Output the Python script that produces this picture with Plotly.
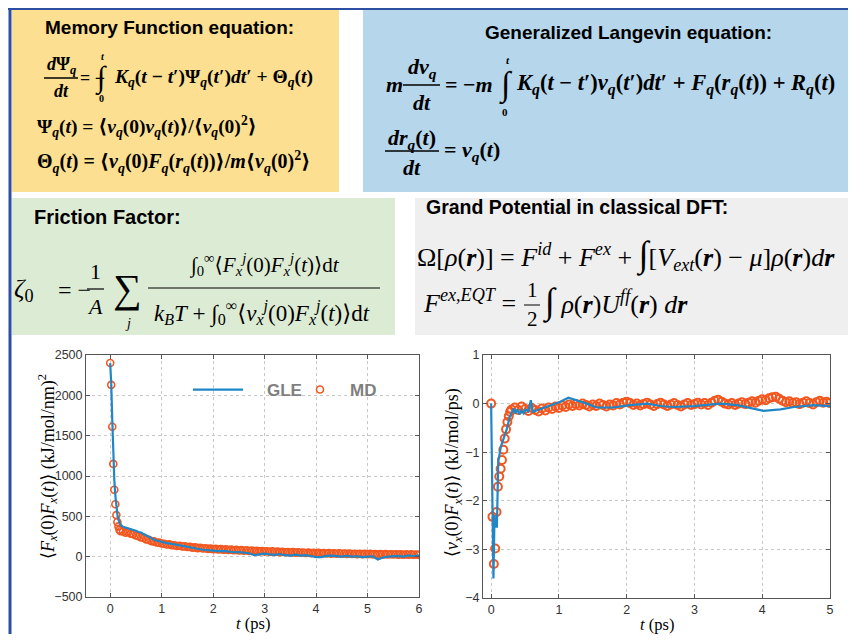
import plotly.graph_objects as go

# page body has an 8px default margin: figure spans reference pixels 8..848 x 8..634
OFF = 8
W, H = 840, 626

# ---------------- data ----------------
# Left panel: <Fx(0)Fx(t)>
MD_T_L = [0, 0.02, 0.04, 0.06, 0.08, 0.10, 0.12, 0.14, 0.16, 0.18, 0.20,
          0.25, 0.30, 0.35, 0.40, 0.45, 0.50, 0.55, 0.60, 0.65, 0.70, 0.75, 0.80, 0.85, 0.90, 0.95,
          1.00, 1.05, 1.10, 1.15, 1.20, 1.25, 1.30, 1.35, 1.40, 1.45, 1.50, 1.55, 1.60, 1.65, 1.70,
          1.75, 1.80, 1.85, 1.90, 1.95, 2.00, 2.05, 2.10, 2.15, 2.20, 2.25, 2.30, 2.35, 2.40, 2.45,
          2.50, 2.55, 2.60, 2.65, 2.70, 2.75, 2.80, 2.85, 2.90, 2.95, 3.00, 3.05, 3.10, 3.15, 3.20,
          3.25, 3.30, 3.35, 3.40, 3.45, 3.50, 3.55, 3.60, 3.65, 3.70, 3.75, 3.80, 3.85, 3.90, 3.95,
          4.00, 4.05, 4.10, 4.15, 4.20, 4.25, 4.30, 4.35, 4.40, 4.45, 4.50, 4.55, 4.60, 4.65, 4.70,
          4.75, 4.80, 4.85, 4.90, 4.95, 5.00, 5.05, 5.10, 5.15, 5.20, 5.25, 5.30, 5.35, 5.40, 5.45,
          5.50, 5.55, 5.60, 5.65, 5.70, 5.75, 5.80, 5.85, 5.90, 5.95, 6.00]
MD_V_L = [2400, 2130, 1610, 1150, 830, 650, 515, 430, 375, 335, 315,
          312, 298, 305, 286, 279, 262, 255, 238, 232, 214, 209, 193, 190, 176, 174,
          163, 160, 151, 152, 141, 142, 133, 135, 126, 127, 119, 121, 112, 115, 106,
          110, 101, 104, 97, 100, 93, 96, 89, 93, 86, 90, 83, 87, 80, 84,
          77, 81, 74, 79, 71, 76, 69, 73, 66, 70, 63, 68, 60, 65, 58,
          63, 56, 60, 54, 58, 52, 56, 50, 54, 48, 52, 46, 50, 44, 49,
          43, 47, 41, 45, 40, 44, 38, 42, 37, 41, 36, 40, 34, 38, 33,
          37, 32, 36, 31, 35, 30, 34, 29, 33, 28, 32, 27, 31, 26, 30,
          26, 30, 25, 29, 24, 28, 24, 28, 23, 27, 22]
GLE_T_L = [0, 0.02, 0.04, 0.06, 0.08, 0.10, 0.12, 0.14, 0.16, 0.18, 0.20, 0.25, 0.30, 0.35,
           0.40, 0.45, 0.50, 0.55, 0.60, 0.65, 0.70, 0.75, 0.80, 0.85, 0.90, 0.95, 1.00, 1.10,
           1.20, 1.30, 1.40, 1.50, 1.60, 1.70, 1.80, 1.90, 2.00, 2.10, 2.20, 2.30, 2.40, 2.50,
           2.60, 2.70, 2.80, 2.90, 3.00, 3.10, 3.20, 3.30, 3.40, 3.50, 3.60, 3.70, 3.80, 3.90,
           4.00, 4.10, 4.20, 4.30, 4.40, 4.50, 4.60, 4.70, 4.80, 4.90, 5.00, 5.10, 5.20, 5.30,
           5.40, 5.50, 5.60, 5.70, 5.80, 5.90, 6.00]
GLE_V_L = [2400, 2150, 1700, 1250, 950, 760, 620, 520, 460, 420, 395, 370, 360, 355,
           345, 330, 322, 305, 300, 280, 262, 245, 225, 212, 200, 190, 182, 168,
           158, 146, 135, 118, 108, 98, 86, 80, 70, 68, 72, 62, 55, 58,
           48, 42, 18, 32, 38, 28, 22, 33, 18, 14, 24, 14, 18, 8,
           -5, -5, 10, 14, 5, 0, 10, 0, 5, -5, 0, 5, -35, -10,
           0, 5, 10, 0, 15, 5, 15]

# Right panel: <vx(0)Fx(t)>
MD_T_R = [0, 0.02, 0.04, 0.06, 0.08, 0.10, 0.12, 0.14, 0.16, 0.18, 0.20, 0.22, 0.24, 0.26, 0.28,
          0.30, 0.35, 0.40, 0.45, 0.50, 0.55, 0.60, 0.65, 0.70, 0.75, 0.80, 0.85, 0.90, 0.95,
          1.00, 1.05, 1.10, 1.15, 1.20, 1.25, 1.30, 1.35, 1.40, 1.45, 1.50, 1.55, 1.60, 1.65,
          1.70, 1.75, 1.80, 1.85, 1.90, 1.95, 2.00, 2.05, 2.10, 2.15, 2.20, 2.25, 2.30, 2.35,
          2.40, 2.45, 2.50, 2.55, 2.60, 2.65, 2.70, 2.75, 2.80, 2.85, 2.90, 2.95, 3.00, 3.05,
          3.10, 3.15, 3.20, 3.25, 3.30, 3.35, 3.40, 3.45, 3.50, 3.55, 3.60, 3.65, 3.70, 3.75,
          3.80, 3.85, 3.90, 3.95, 4.00, 4.05, 4.10, 4.15, 4.20, 4.25, 4.30, 4.35, 4.40, 4.45,
          4.50, 4.55, 4.60, 4.65, 4.70, 4.75, 4.80, 4.85, 4.90, 4.95, 5.00]
MD_V_R = [0, -2.33, -3.30, -2.98, -2.23, -1.71, -1.50, -1.34, -1.16, -0.95, -0.72, -0.53, -0.38, -0.26, -0.17,
          -0.12, -0.08, -0.13, -0.06, -0.11, -0.15, -0.09, -0.13, -0.16, -0.10, -0.14, -0.08, -0.11, -0.06,
          -0.09, -0.04, -0.07, -0.02, -0.05, -0.01, -0.04, 0.00, -0.03, -0.06, -0.02, -0.05, 0.00, -0.03,
          -0.06, -0.02, -0.04, 0.01, -0.02, 0.02, 0.04, 0.01, -0.03, 0.00, -0.04, -0.01, 0.02, -0.02,
          -0.05, -0.01, 0.02, -0.02, -0.05, -0.02, 0.01, -0.03, -0.06, -0.02, 0.01, -0.03, -0.01, 0.02,
          -0.02, 0.01, -0.03, 0.02, 0.06, 0.08, 0.04, 0.00, -0.02, 0.01, -0.03, 0.00, 0.03, -0.01,
          0.02, 0.05, 0.02, 0.06, 0.09, 0.07, 0.11, 0.13, 0.14, 0.10, 0.06, 0.03, 0.05, 0.01,
          0.03, -0.01, 0.02, 0.05, 0.01, -0.02, 0.03, 0.06, 0.02, 0.04, 0.01]
GLE_T_R = [0, 0.034, 0.050, 0.056, 0.085, 0.105, 0.143, 0.182, 0.232, 0.276, 0.31, 0.335, 0.36,
           0.39, 0.42, 0.45, 0.48, 0.51, 0.55, 0.586, 0.617, 0.70, 0.82, 0.95, 1.02, 1.14, 1.26,
           1.41, 1.56, 1.80, 2.05, 2.30, 2.50, 2.70, 2.99, 3.20, 3.38, 3.63, 3.88, 4.02, 4.27,
           4.47, 4.76, 5.00]
GLE_V_R = [0, -3.60, -2.30, -2.53, -2.53, -1.20, -0.89, -0.72, -0.52, -0.27, -0.17, -0.10, -0.20,
           -0.12, -0.22, -0.14, -0.20, -0.12, -0.16, 0.07, -0.17, -0.13, -0.07, 0.00, 0.04, 0.12, 0.07,
           0.00, -0.08, -0.08, -0.03, 0.00, -0.05, -0.07, -0.05, -0.02, 0.00, -0.03, -0.10, -0.15, -0.12,
           -0.07, -0.03, -0.05]

X_TICKS_L = [0, 1, 2, 3, 4, 5, 6]
Y_TICKS_L = [-500, 0, 500, 1000, 1500, 2000, 2500]
X_TICKS_R = [0, 1, 2, 3, 4, 5]
Y_TICKS_R = [-4, -3, -2, -1, 0, 1]

BLUE = "#1f86c8"
ORANGE = "#f2571f"


def px(x):
    return (x - OFF) / W


def py(y):
    return 1 - (y - OFF) / H


fig = go.Figure()

fig.add_trace(go.Scatter(x=MD_T_L, y=MD_V_L, mode="markers", name="<b>MD</b>", legendrank=2,
                         marker=dict(symbol="circle-open", size=7, color=ORANGE, line=dict(width=1.6)),
                         xaxis="x", yaxis="y"))
fig.add_trace(go.Scatter(x=GLE_T_L, y=GLE_V_L, mode="lines", name="&nbsp;&nbsp;&nbsp;&nbsp;<b>GLE</b>", legendrank=1,
                         line=dict(color=BLUE, width=2.2), xaxis="x", yaxis="y"))
fig.add_trace(go.Scatter(x=MD_T_R, y=MD_V_R, mode="markers", showlegend=False,
                         marker=dict(symbol="circle-open", size=8, color=ORANGE, line=dict(width=2)),
                         xaxis="x2", yaxis="y2"))
fig.add_trace(go.Scatter(x=GLE_T_R, y=GLE_V_R, mode="lines", showlegend=False,
                         line=dict(color=BLUE, width=2.2), xaxis="x2", yaxis="y2"))

axis_common = dict(showline=True, linecolor="#555", linewidth=1, mirror="allticks",
                   ticks="inside", ticklen=4, tickcolor="#555", showgrid=True,
                   gridcolor="#c8c8c8", griddash="dot", gridwidth=1, zeroline=False, automargin=False,
                   tickfont=dict(family="Liberation Sans, Arial", size=12.5, color="#333"))

fig.update_layout(
    width=W, height=H, margin=dict(l=0, r=0, t=0, b=0, pad=0, autoexpand=False),
    paper_bgcolor="white", plot_bgcolor="white",
    xaxis=dict(domain=[px(86), px(419)], range=[-0.47, 6], tickvals=X_TICKS_L, anchor="y", **axis_common),
    yaxis=dict(domain=[py(597), py(355)], range=[-500, 2500], tickvals=Y_TICKS_L, anchor="x", **axis_common),
    xaxis2=dict(domain=[px(483), px(830)], range=[-0.12, 5], tickvals=X_TICKS_R, anchor="y2", **axis_common),
    yaxis2=dict(domain=[py(598), py(355)], range=[-4, 1], tickvals=Y_TICKS_R, anchor="x2", **axis_common),
    legend=dict(orientation="h", x=px(188), y=py(390), xanchor="left", yanchor="middle",
                bgcolor="rgba(0,0,0,0)", font=dict(family="Liberation Sans, Arial", size=17, color="#7f7f7f"),
                itemwidth=50, entrywidth=37, entrywidthmode="pixels", tracegroupgap=0),
    showlegend=True,
)

shapes = []


def rect(x0, y0, x1, y1, color):
    shapes.append(dict(type="rect", xref="paper", yref="paper", x0=px(x0), x1=px(x1), y0=py(y1), y1=py(y0),
                       fillcolor=color, line=dict(width=0), layer="below"))


def hline(x0, x1, y, width=1.3, color="black"):
    shapes.append(dict(type="line", xref="paper", yref="paper", x0=px(x0), x1=px(x1), y0=py(y), y1=py(y),
                       line=dict(color=color, width=width)))


rect(12, 9, 339, 192, "#fcdf90")
rect(363, 9, 852, 192, "#b5d6eb")
rect(12, 198, 395, 335, "#dcebd4")
rect(415, 198, 852, 335, "#efefef")
# frame lines
shapes.append(dict(type="line", xref="paper", yref="paper", x0=px(8), x1=px(860), y0=py(8.5), y1=py(8.5),
                   line=dict(color="#2d4fa3", width=3)))
shapes.append(dict(type="line", xref="paper", yref="paper", x0=px(10), x1=px(10), y0=py(8), y1=py(650),
                   line=dict(color="#2d4fa3", width=3)))

anns = []
SERIF = "Liberation Serif, Times New Roman, DejaVu Serif"
SANS = "Liberation Sans, Arial"


def T(x, y, s, size, fam=SERIF, anchor="left", color="black", angle=0):
    anns.append(dict(xref="paper", yref="paper", x=px(x), y=py(y), text=s, showarrow=False,
                     xanchor=anchor, yanchor="middle", textangle=angle,
                     font=dict(family=fam, size=size, color=color)))


def BI(s):
    return "<b><i>" + s + "</i></b>"


# ----- Memory function box -----
T(169, 27, "<b>Memory Function equation:</b>", 19, SANS, "center")
T(61, 66, BI("d</i>Ψ<i><sub>q</sub>"), 18, anchor="center")
hline(44, 78, 78, 1.4)
T(61, 91, BI("dt"), 18, anchor="center")
T(78, 78, "<b>= −</b>", 18)
T(101, 78, "<b>∫</b>", 30, anchor="center")
T(103, 56, BI("t"), 10, anchor="center")
T(101, 99, "<b>0</b>", 10, anchor="center")
T(112, 78, BI("K<sub>q</sub></i>(<i>t</i> − <i>t</i>′)Ψ<i><sub>q</sub></i>(<i>t</i>′)<i>dt</i>′ + Θ<i><sub>q</sub></i>(<i>t</i>)"), 19.5)
T(35, 127, BI("</i>Ψ<i><sub>q</sub></i>(<i>t</i>) = ⟨<i>v<sub>q</sub></i>(0)<i>v<sub>q</sub></i>(<i>t</i>)⟩/⟨<i>v<sub>q</sub></i>(0)<sup>2</sup>⟩"), 19.5)
T(35, 162, BI("</i>Θ<i><sub>q</sub></i>(<i>t</i>) = ⟨<i>v<sub>q</sub></i>(0)<i>F<sub>q</sub></i>(<i>r<sub>q</sub></i>(<i>t</i>))⟩/<i>m</i>⟨<i>v<sub>q</sub></i>(0)<sup>2</sup>⟩"), 20)

# ----- Langevin box -----
T(628, 32, "<b>Generalized Langevin equation:</b>", 19, SANS, "center")
T(384, 85, BI("m"), 22)
T(422, 68, BI("dv<sub>q</sub>"), 22, anchor="center")
hline(403, 440, 85, 1.5)
T(422, 102, BI("dt"), 22, anchor="center")
T(443, 85, BI("</i>= −<i>m"), 22)
T(506, 85, "<b>∫</b>", 34, anchor="center")
T(508, 60, BI("t"), 11, anchor="center")
T(505, 112, "<b>0</b>", 11, anchor="center")
T(514, 85, BI("K<sub>q</sub></i>(<i>t</i> − <i>t</i>′)<i>v<sub>q</sub></i>(<i>t</i>′)<i>dt</i>′ + <i>F<sub>q</sub></i>(<i>r<sub>q</sub></i>(<i>t</i>)) + <i>R<sub>q</sub></i>(<i>t</i>)"), 22.5)
T(412, 139, BI("dr<sub>q</sub></i>(<i>t</i>)"), 22, anchor="center")
hline(385, 439, 151, 1.5)
T(412, 167, BI("dt"), 22, anchor="center")
T(442, 151, BI("</i>= <i>v<sub>q</sub></i>(<i>t</i>)"), 22)

# ----- Friction factor box -----
T(32, 217, "<b>Friction Factor:</b>", 20, SANS)
T(12, 290, "<i>ζ</i><sub>0</sub>", 26)
T(56, 290, "= −", 24)
T(95, 272, "1", 22, anchor="center")
hline(87, 104, 289, 1.2)
T(95, 306, "<i>A</i>", 22, anchor="center")
T(127, 288, "∑", 40, anchor="center")
T(128, 323, "<i>j</i>", 14, anchor="center")
T(264, 264, "∫<sub>0</sub><sup>∞</sup>⟨<i>F<sub>x</sub><sup>j</sup></i>(0)<i>F<sub>x</sub><sup>j</sup></i>(<i>t</i>)⟩d<i>t</i>", 21, anchor="center")
hline(148, 380, 288, 1.2)
T(262, 312, "<i>k<sub>B</sub>T</i> + ∫<sub>0</sub><sup>∞</sup>⟨<i>v<sub>x</sub><sup>j</sup></i>(0)<i>F<sub>x</sub><sup>j</sup></i>(<i>t</i>)⟩d<i>t</i>", 23, anchor="center")

# ----- Grand potential box -----
T(424, 207, "<b>Grand Potential in classical DFT:</b>", 19.5, SANS)
T(415, 255, "Ω[<i>ρ</i>(<b><i>r</i></b>)] = <i>F<sup>id</sup></i> + <i>F<sup>ex</sup></i> + "
            "<span style='font-size:36px'>∫</span>[<i>V<sub>ext</sub></i>(<b><i>r</i></b>) − <i>μ</i>]<i>ρ</i>(<b><i>r</i></b>)<i>d</i><b><i>r</i></b>", 26)
T(421, 301, "<i>F<sup>ex,EQT</sup></i> =", 26)
T(532, 290, "1", 21, anchor="center")
hline(524, 540, 305, 1.0)
T(532, 319, "2", 21, anchor="center")
T(541, 302, "<span style='font-size:36px'>∫</span> <i>ρ</i>(<b><i>r</i></b>)<i>U<sup>ff</sup></i>(<b><i>r</i></b>) <i>d</i><b><i>r</i></b>", 26)

# ----- axis titles -----
T(47, 467, "⟨<i>F<sub>x</sub></i>(0)<i>F<sub>x</sub></i>(<i>t</i>)⟩ (kJ/mol/nm)<sup>2</sup>", 18, angle=-90, anchor="center")
T(253, 623.5, "<i>t</i> (ps)", 16.5, anchor="center")
T(453, 473, "⟨<i>v<sub>x</sub></i>(0)<i>F<sub>x</sub></i>(<i>t</i>)⟩ (kJ/mol/ps)", 18, angle=-90, anchor="center")
T(657, 624.5, "<i>t</i> (ps)", 16.5, anchor="center")

fig.update_layout(shapes=shapes, annotations=anns)
fig.write_html("out.html")
